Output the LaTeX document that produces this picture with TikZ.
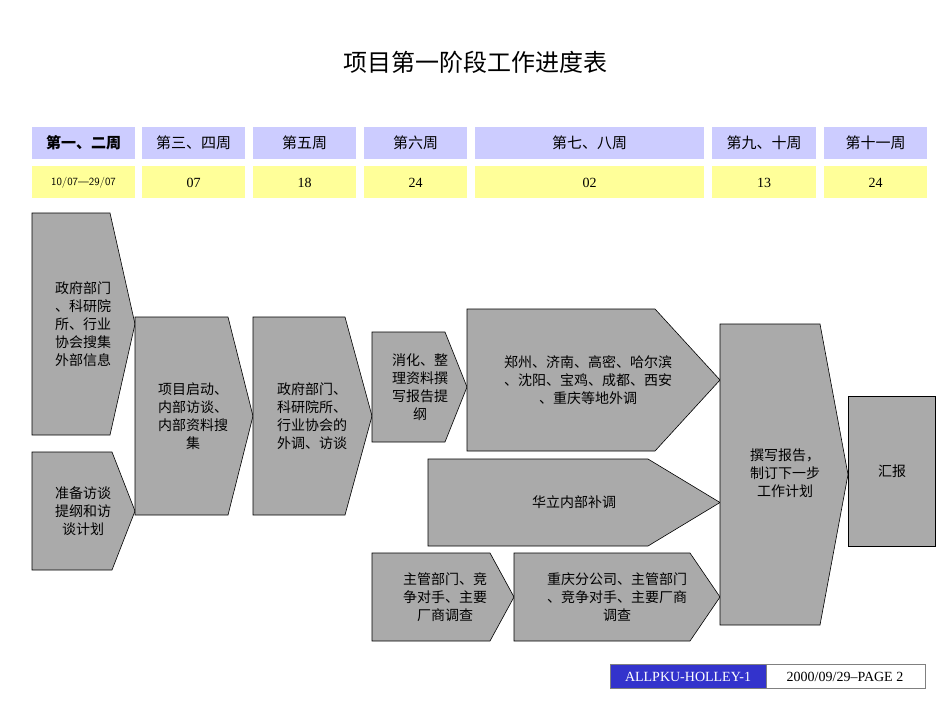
\documentclass[tikz,border=0pt]{standalone}
\usepackage{fontspec}
\setmainfont{Liberation Serif}
\newfontfamily\cjk{Noto Sans CJK SC}
\definecolor{hblue}{RGB}{204,204,255}
\definecolor{hyel}{RGB}{255,255,153}
\definecolor{sgray}{RGB}{170,170,170}
\definecolor{fblue}{RGB}{51,51,204}
\begin{document}
\begin{tikzpicture}[x=1pt,y=-1pt,
  hcell/.style={fill=hblue,inner sep=0},
  dcell/.style={fill=hyel,inner sep=0},
  ch/.style={draw=black,fill=sgray,line width=0.6pt},
  lab/.style={align=center,font=\cjk\fontsize{14}{18}\selectfont,inner sep=0}]
\useasboundingbox (0,0) rectangle (950,713);
\node[font=\cjk\fontsize{24}{28}\selectfont] (title) at (475,62) {项目第一阶段工作进度表};
% header
\foreach \a/\b/\t/\d [count=\i] in {32/135/{\bfseries 第一、二周}/{\fontsize{11}{12}\selectfont\sffamily 10/07—29/07},142/245/第三、四周/07/30—17/08,253/356/第五周/18/08—23/08,364/467/第六周/24/08—01/09,475/704/第七、八周/02/09—12/09,712/816/第九、十周/13/09—23/09,824/927/第十一周/24/09—01/10}{
  \fill[hblue] (\a,127) rectangle (\b,159);
  \fill[hyel] (\a,166) rectangle (\b,198);
  \node[font=\cjk\fontsize{15}{18}\selectfont] (h\i) at ({(\a+\b)/2},143) {\t};
  \node[font=\fontsize{14}{16}\selectfont] (d\i) at ({(\a+\b)/2},183) {\d};
}
% chevrons: x1,y1,x2,y2,tipstart
\newcommand{\chev}[6]{\draw[ch] (#1,#2) -- (#5,#2) -- (#3,{(#2+#4)/2}) -- (#5,#4) -- (#1,#4) -- cycle;
  \node[lab] (#6) at ({(#1+#5)/2},{(#2+#4)/2}) {};}
\chev{32}{213}{135}{435}{110}{s1}
\chev{32}{452}{135}{570}{112}{s2}
\chev{135}{317}{253}{515}{228}{s3}
\chev{253}{317}{372}{515}{345}{s4}
\chev{372}{332}{467}{442}{445}{s5}
\chev{467}{309}{720}{451}{655}{s6}
\chev{428}{459}{720}{546}{648}{s7}
\chev{372}{553}{514}{641}{490}{s8}
\chev{514}{553}{720}{641}{690}{s9}
\chev{720}{324}{848}{625}{820}{s10}
\draw[ch] (848,396) rectangle (935,546);
\node[lab] (t1) at (83,324) {政府部门\\、科研院\\所、行业\\协会搜集\\外部信息};
\node[lab] (t2) at (83,511) {准备访谈\\提纲和访\\谈计划};
\node[lab] (t3) at (193,416) {项目启动、\\内部访谈、\\内部资料搜\\集};
\node[lab] (t4) at (312,416) {政府部门、\\科研院所、\\行业协会的\\外调、访谈};
\node[lab] (t5) at (420,387) {消化、整\\理资料撰\\写报告提\\纲};
\node[lab] (t6) at (588,380) {郑州、济南、高密、哈尔滨\\、沈阳、宝鸡、成都、西安\\、重庆等地外调};
\node[lab] (t7) at (574,502) {华立内部补调};
\node[lab] (t8) at (445,597) {主管部门、竞\\争对手、主要\\厂商调查};
\node[lab] (t9) at (617,597) {重庆分公司、主管部门\\、竞争对手、主要厂商\\调查};
\node[lab] (t10) at (785,473) {撰写报告，\\制订下一步\\工作计划};
\node[lab] (t11) at (892,471) {汇报};
% footer
\draw[gray,fill=fblue] (610,664) rectangle (766,688);
\draw[gray] (766,664) rectangle (925,688);
\node[text=white,font=\fontsize{14}{16}\selectfont] (f1) at (688,677) {ALLPKU-HOLLEY-1};
\node[font=\fontsize{14}{16}\selectfont] (f2) at (845,677) {2000/09/29--PAGE 2};
\end{tikzpicture}
\end{document}
